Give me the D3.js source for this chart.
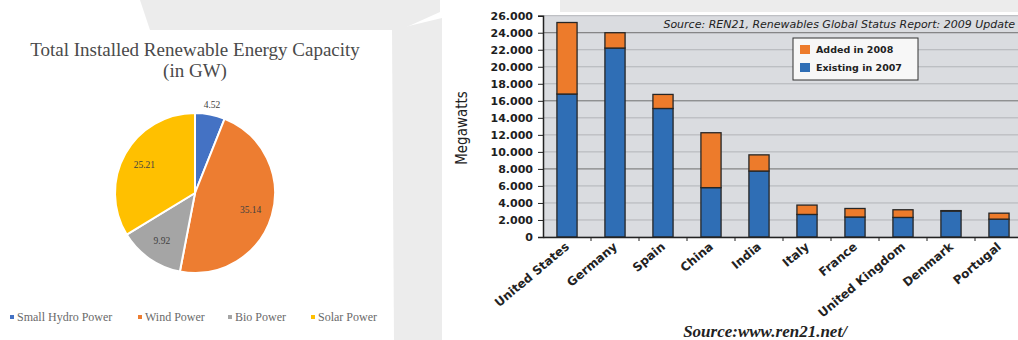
<!DOCTYPE html>
<html><head><meta charset="utf-8">
<script src="https://cdn.jsdelivr.net/npm/d3@7"></script>
<style>body{margin:0;background:#fff}svg{display:block}</style>
</head><body>
<svg id="c" width="1018" height="340"></svg>
<script>
// ---- Pie data ----
const pieTitle = ["Total Installed Renewable Energy Capacity", "(in GW)"];
const pieLabels = ["Small Hydro Power", "Wind Power", "Bio Power", "Solar Power"];
const pieValues = [4.52, 35.14, 9.92, 25.21];
const pieColors = ["#4472c4", "#ed7d31", "#a5a5a5", "#ffc000"];

// ---- Bar data ----
const countries = ["United States", "Germany", "Spain", "China", "India", "Italy", "France", "United Kingdom", "Denmark", "Portugal"];
const existing2007 = [16800, 22200, 15100, 5800, 7750, 2650, 2350, 2300, 3050, 2100];
const added2008 = [8400, 1800, 1650, 6450, 1900, 1100, 1000, 900, 50, 700];
const seriesNames = ["Added in 2008", "Existing in 2007"];
const yTicks = [0, 2000, 4000, 6000, 8000, 10000, 12000, 14000, 16000, 18000, 20000, 22000, 24000, 26000];
const yTickLabels = ["0", "2.000", "4.000", "6.000", "8.000", "10.000", "12.000", "14.000", "16.000", "18.000", "20.000", "22.000", "24.000", "26.000"];
const chartSource = "Source: REN21, Renewables Global Status Report: 2009 Update";
const footSource = "Source:www.ren21.net/";

const svg = d3.select("#c");

// faint watermark shapes
const wm = svg.append("g").attr("fill", "#ececec");
wm.append("polygon").attr("points", "140,0 440,0 440,12 400,30 150,30");
wm.append("polygon").attr("points", "392,30 442,18 442,340 394,340");
wm.append("polygon").attr("points", "560,0 1018,0 1018,12 560,12");

// ================= PIE =================
const serif = "'Liberation Serif','Times New Roman',serif";
const tg = svg.append("g").attr("font-family", serif).attr("fill", "#4a4a4a").attr("text-anchor", "middle");
tg.selectAll("text").data(pieTitle).join("text")
  .attr("x", 195).attr("y", (d, i) => 56 + i * 21)
  .attr("font-size", 19).text(d => d);

const cx = 195, cy = 193, R = 80;
const pie = d3.pie().sort(null).value(d => d)(pieValues);
const arc = d3.arc().innerRadius(0).outerRadius(R);
const pg = svg.append("g").attr("transform", `translate(${cx},${cy})`);
pg.selectAll("path").data(pie).join("path")
  .attr("d", arc).attr("fill", (d, i) => pieColors[i])
  .attr("stroke", "#fff").attr("stroke-width", 2);
const inArc = d3.arc().innerRadius(58).outerRadius(58);
const outArc = d3.arc().innerRadius(90).outerRadius(90);
pg.selectAll("text").data(pie).join("text")
  .attr("transform", d => `translate(${((d.endAngle - d.startAngle) < 0.5 ? outArc : inArc).centroid(d)})`)
  .attr("text-anchor", "middle").attr("dy", "0.35em")
  .attr("font-family", serif).attr("font-size", 9.5).attr("fill", "#404040")
  .text(d => d.data.toFixed(2));

// pie legend
const legX = [10, 138, 228, 311];
const lg = svg.append("g").attr("font-family", serif).attr("font-size", 12).attr("fill", "#6a6a6a");
const li = lg.selectAll("g").data(pieLabels).join("g").attr("transform", (d, i) => `translate(${legX[i]},317)`);
li.append("rect").attr("x", 0).attr("y", -2).attr("width", 4).attr("height", 4).attr("fill", (d, i) => pieColors[i]);
li.append("text").attr("x", 7).attr("dy", "0.35em").text(d => d);

// ================= BARS =================
const sans = "'DejaVu Sans',Verdana,sans-serif";
const pLeft = 543, pTop = 15.7, pBottom = 237;
const x = d3.scaleBand().domain(countries).range([pLeft, pLeft + 480]).paddingInner(0.58).paddingOuter(0.29);
const y = d3.scaleLinear().domain([0, 26000]).range([pBottom, pTop]);

svg.append("rect").attr("x", pLeft).attr("y", pTop).attr("width", 1018 - pLeft).attr("height", pBottom - pTop).attr("fill", "#dadce0");

svg.append("g").selectAll("line").data(yTicks).join("line")
  .attr("x1", pLeft).attr("x2", 1018).attr("y1", d => y(d)).attr("y2", d => y(d))
  .attr("stroke", d => (d % 8000 === 0 && d > 0) ? "#6f6f6f" : "#b2b4b8").attr("stroke-width", 1);

svg.append("text").attr("x", 1015).attr("y", 28).attr("text-anchor", "end")
  .attr("font-family", sans).attr("font-style", "italic").attr("font-size", 11).attr("fill", "#222").text(chartSource);

// stacked bars
const stackData = countries.map((c, i) => ({ c, existing: existing2007[i], added: added2008[i] }));
const stacked = d3.stack().keys(["existing", "added"])(stackData);
const barColors = { existing: "#2f6eb5", added: "#ed7b2b" };
const bg = svg.append("g");
bg.selectAll("g").data(stacked).join("g").attr("fill", d => barColors[d.key])
  .selectAll("rect").data(d => d).join("rect")
  .attr("x", d => x(d.data.c)).attr("width", x.bandwidth())
  .attr("y", d => y(d[1])).attr("height", d => y(d[0]) - y(d[1]))
  .attr("stroke", "#262626").attr("stroke-width", 1.3);

// axes
const yAxis = d3.axisLeft(y).tickValues(yTicks).tickFormat((d, i) => yTickLabels[i]).tickSize(5).tickPadding(5);
const ya = svg.append("g").attr("transform", `translate(${pLeft},0)`).call(yAxis);
ya.select(".domain").attr("stroke", "#222").attr("stroke-width", 1.5);
ya.selectAll(".tick line").attr("stroke", "#222");
ya.selectAll("text").attr("font-family", sans).attr("font-weight", "bold").attr("font-size", 11).attr("fill", "#1e1e1e");

const xAxis = d3.axisBottom(x).tickSize(0).tickPadding(0);
const xa = svg.append("g").attr("transform", `translate(0,${pBottom})`).call(xAxis);
xa.select(".domain").attr("stroke", "#222").attr("stroke-width", 1.5);
xa.selectAll("text").attr("font-family", sans).attr("font-weight", "bold").attr("font-size", 12).attr("fill", "#222")
  .attr("text-anchor", "end").attr("dy", 0).attr("y", 0)
  .attr("transform", "translate(3,11) rotate(-40)");
// boundary ticks
svg.append("g").selectAll("line").data(countries.slice(1)).join("line")
  .attr("x1", d => x(d) - x.step() * x.paddingInner() / 2).attr("x2", d => x(d) - x.step() * x.paddingInner() / 2)
  .attr("y1", pBottom).attr("y2", pBottom + 4).attr("stroke", "#222");

// legend box
const lb = svg.append("g").attr("transform", "translate(793,38)");
lb.append("rect").attr("width", 125).attr("height", 42).attr("fill", "#f7f7f7").attr("stroke", "#333");
const lbi = lb.selectAll("g").data(seriesNames).join("g").attr("transform", (d, i) => `translate(7,${12 + i * 18})`);
lbi.append("rect").attr("y", -5).attr("width", 10).attr("height", 9).attr("fill", (d, i) => i === 0 ? barColors.added : barColors.existing);
lbi.append("text").attr("x", 16).attr("dy", "0.35em").attr("font-family", sans).attr("font-weight", "bold").attr("font-size", 9.5).attr("fill", "#222").text(d => d);

// y title
svg.append("text").attr("transform", "translate(467,128) rotate(-90)").attr("text-anchor", "middle")
  .attr("font-family", "'DejaVu Sans Condensed','DejaVu Sans',sans-serif").attr("font-size", 15).attr("fill", "#222").text("Megawatts");

// footer source
svg.append("text").attr("x", 765).attr("y", 337).attr("text-anchor", "middle")
  .attr("font-family", serif).attr("font-style", "italic").attr("font-weight", "bold").attr("font-size", 17).attr("fill", "#222").text(footSource);
</script>
</body></html>
